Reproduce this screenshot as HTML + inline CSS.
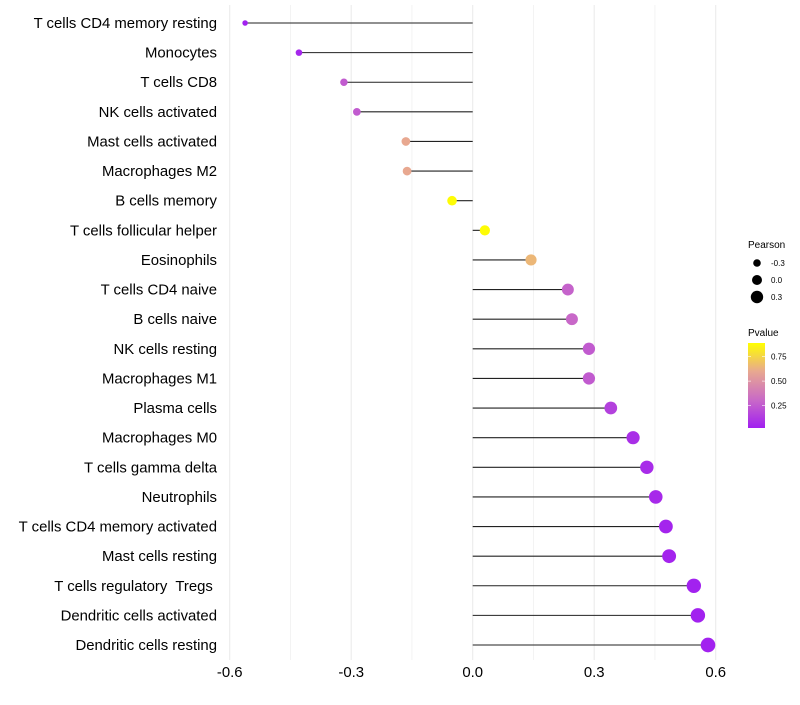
<!DOCTYPE html>
<html><head><meta charset="utf-8"><style>
body{margin:0;background:#fff;font-family:"Liberation Sans",sans-serif}
svg text{font-family:"Liberation Sans",sans-serif;white-space:pre}
</style></head><body>
<svg id="chart" width="800" height="700"></svg>
<script>
const categories=["T cells CD4 memory resting","Monocytes","T cells CD8","NK cells activated","Mast cells activated","Macrophages M2","B cells memory","T cells follicular helper","Eosinophils","T cells CD4 naive","B cells naive","NK cells resting","Macrophages M1","Plasma cells","Macrophages M0","T cells gamma delta","Neutrophils","T cells CD4 memory activated","Mast cells resting","T cells regulatory  Tregs ","Dendritic cells activated","Dendritic cells resting"];
const pearson=[-0.562,-0.429,-0.318,-0.286,-0.165,-0.162,-0.051,0.030,0.144,0.235,0.245,0.287,0.287,0.341,0.396,0.430,0.452,0.477,0.485,0.546,0.556,0.581];
const pvalue=[0.03,0.05,0.25,0.25,0.6,0.6,0.88,0.88,0.65,0.28,0.3,0.25,0.25,0.15,0.08,0.07,0.06,0.04,0.04,0.03,0.03,0.03];
const xTicks=[-0.6,-0.45,-0.3,-0.15,0,0.15,0.3,0.45,0.6];
const xTickLabels=["-0.6","","-0.3","","0.0","","0.3","","0.6"];
const legendSizes=[-0.3,0.0,0.3];
const legendColorTicks=[0.25,0.5,0.75];

const NS="http://www.w3.org/2000/svg";
const svg=document.getElementById('chart');
const x=v=>472.7+v*405;
const y=i=>23+i*(622/21);
const r=v=>5+4*v;
const stops=[[0.02,[161,31,240]],[0.3,[200,104,200]],[0.6,[232,168,144]],[0.89,[255,255,0]]];
function color(p){
  if(p<=stops[0][0])return 'rgb('+stops[0][1]+')';
  for(let k=1;k<stops.length;k++){if(p<=stops[k][0]){const a=stops[k-1],b=stops[k],t=(p-a[0])/(b[0]-a[0]);return 'rgb('+a[1].map((c,j)=>Math.round(c+(b[1][j]-c)*t))+')';}}
  return 'rgb('+stops[3][1]+')';
}
function el(t,attrs,parent){const e=document.createElementNS(NS,t);for(const k in attrs)e.setAttribute(k,attrs[k]);(parent||svg).appendChild(e);return e;}

xTicks.forEach((t,i)=>{
  const g=el('line',{x1:x(t),x2:x(t),y1:5,y2:660,stroke:'#ebebeb','stroke-width':i%2?0.6:1.1});
  
  
  if(xTickLabels[i]){
    const tx=el('text',{x:x(t),y:677,'text-anchor':'middle','font-size':14.9,fill:'#000'});
    tx.textContent=xTickLabels[i];
    
    
  }
});
categories.forEach((c,i)=>{
  const t=el('text',{x:217,y:y(i)+5,'text-anchor':'end','font-size':14.9,fill:'#000'});
  t.textContent=c;
  
  
  const l=el('line',{x1:x(0),x2:x(pearson[i]),y1:y(i),y2:y(i),stroke:'#222','stroke-width':1.1});
  
  
  const d=el('circle',{cx:x(pearson[i]),cy:y(i),r:r(pearson[i]),fill:color(pvalue[i])});
  
  
  svg.insertBefore(l,d);
});
const lt=el('text',{x:748,y:248,'font-size':10,fill:'#000'});lt.textContent='Pearson';


legendSizes.forEach((s,i)=>{
  const cy=263+i*17;
  const c=el('circle',{cx:757,cy:cy,r:r(s),fill:'#000'});
  
  
  const t=el('text',{x:771,y:cy+3,'font-size':8,fill:'#000'});t.textContent=s.toFixed(1);
  
  
});
const pt=el('text',{x:748,y:336,'font-size':10,fill:'#000'});pt.textContent='Pvalue';


const defs=el('defs',{});
const lg=el('linearGradient',{id:'pg',x1:0,y1:1,x2:0,y2:0},defs);
stops.forEach(s=>el('stop',{offset:(s[0]-0.02)/0.87,'stop-color':'rgb('+s[1]+')'},lg));
const bar=el('rect',{x:748,y:343,width:17,height:85,fill:'url(#pg)'});


const py=p=>428-(p-0.02)/0.87*85;
legendColorTicks.forEach(p=>{
  el('line',{x1:748,x2:751,y1:py(p),y2:py(p),stroke:'#fff','stroke-width':0.6});
  el('line',{x1:762,x2:765,y1:py(p),y2:py(p),stroke:'#fff','stroke-width':0.6});
  const t=el('text',{x:771,y:py(p)+3,'font-size':8,fill:'#000'});t.textContent=p.toFixed(2);
  
  
});
</script>
</body></html>
